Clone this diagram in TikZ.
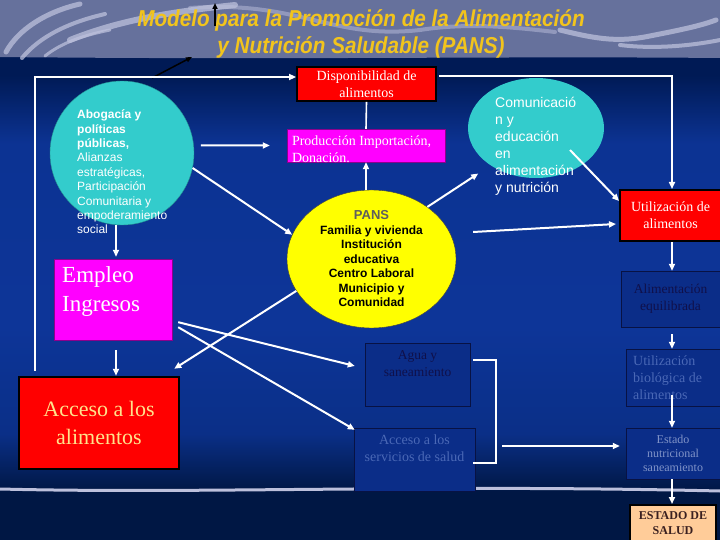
\documentclass[tikz,border=0pt]{standalone}
\usepackage{fontspec}
\setmainfont{Liberation Serif}
\setsansfont{Liberation Sans}
\newfontfamily\titlefont[FakeStretch=0.9]{Liberation Sans}
\usetikzlibrary{arrows.meta, shapes.geometric}
\definecolor{BandGray}{HTML}{66719C}
\definecolor{NavyTop}{HTML}{001A55}
\definecolor{NavyMid}{HTML}{0D3598}
\definecolor{NavyLow}{HTML}{001744}
\definecolor{TitleGold}{HTML}{F2C41C}
\definecolor{BoxRed}{HTML}{FF0000}
\definecolor{BoxPink}{HTML}{FF00FF}
\definecolor{CircleTeal}{HTML}{33CCCC}
\definecolor{PansYellow}{HTML}{FFFF00}
\definecolor{PansGray}{HTML}{5E5E5E}
\definecolor{DeepBox}{HTML}{0B2D88}
\definecolor{DeepLine}{HTML}{081244}
\definecolor{DeepText}{HTML}{10104A}
\definecolor{FaintText}{HTML}{4A68B6}
\definecolor{PaleText}{HTML}{8093C8}
\definecolor{PaleYellow}{HTML}{FFE38C}
\definecolor{Peach}{HTML}{FFCC99}
\definecolor{SaludText}{HTML}{3A2020}
\definecolor{SwirlGray}{HTML}{BCC0DC}
\pgfdeclareverticalshading{navyshade}{100bp}{color(0bp)=(NavyLow); color(30bp)=(NavyLow);
  color(36bp)=(NavyMid!80!NavyLow); color(47bp)=(NavyMid); color(66bp)=(NavyMid!92!NavyTop);
  color(73bp)=(NavyTop); color(100bp)=(NavyTop)}

\begin{document}
\begin{tikzpicture}[x=1pt,y=-1pt,
    redbox/.style={draw=black,fill=BoxRed,inner sep=0pt,align=center},
    pinkbox/.style={draw=BoxPink!55!black,fill=BoxPink,inner sep=0pt},
    deepbox/.style={draw=DeepLine,fill=DeepBox,inner sep=0pt,align=center},
    wline/.style={draw=white,line width=1.6pt},
    warrow/.style={draw=white,line width=2pt,-{Triangle[length=7pt,width=6pt]}},
    swirl/.style={draw=SwirlGray,line cap=round,opacity=0.75}]
\useasboundingbox (0,0) rectangle (720,540);
% background
\shade[shading=navyshade] (0,56) rectangle (720,540);
\fill[BandGray] (0,0) -- (720,0) -- (720,58) .. controls (500,56) and (300,60) .. (0,57) -- cycle;
\draw[swirl,line width=5pt] (6,52) .. controls (18,30) and (45,12) .. (80,4);
\draw[swirl,line width=4pt] (22,58) .. controls (40,36) and (70,22) .. (105,14);
\draw[swirl,line width=3pt] (45,56) .. controls (60,44) and (80,36) .. (110,30);
\draw[swirl,line width=6pt] (70,40) .. controls (120,20) and (170,12) .. (235,5);
\draw[swirl,line width=4pt,opacity=0.5] (190,8) .. controls (300,0) and (330,40) .. (420,30) .. controls (470,22) and (520,28) .. (555,32);
\draw[swirl,line width=5pt] (560,30) .. controls (600,40) and (620,42) .. (650,36) .. controls (680,30) and (700,26) .. (716,20);
\draw[swirl,line width=4pt] (620,45) .. controls (660,50) and (700,44) .. (720,40);
\draw[SwirlGray,line width=3pt] (0,489) .. controls (200,494) and (420,484) .. (720,491);
% title
\node[text=TitleGold,align=center,font=\titlefont\bfseries\itshape\fontsize{23}{27}\selectfont] (title) at (361,33.5)
    {Modelo para la Promoción de la Alimentación\\y Nutrición Saludable (PANS)};
\coordinate (tailUp) at (215,26);
\coordinate (tipUp) at (215,3);
\coordinate (tailDiag) at (152,78);
\coordinate (tipDiag) at (192,57);
\draw[black,line width=1.5pt,-{Triangle[length=6pt,width=5pt]}] (tailUp) -- (tipUp);
\draw[black,line width=1.5pt,-{Triangle[length=6pt,width=5pt]}] (tailDiag) -- (tipDiag);

% left column
\node[circle,fill=CircleTeal,draw=CircleTeal!70!black,minimum size=144pt,inner sep=0pt] (abog) at (122,153) {};
\node[anchor=west,inner sep=0pt,text=white,align=left,font=\sffamily\fontsize{12}{14.4}\selectfont] (abogText) at (77,172)
    {\textbf{Abogacía y}\\\textbf{políticas}\\\textbf{públicas,}\\Alianzas\\estratégicas,\\Participación\\Comunitaria y\\empoderamiento\\social};
\node[pinkbox,minimum width=118pt,minimum height=81pt] (empleo) at (113,299.5) {};
\node[anchor=west,inner sep=0pt,text=white,align=left,font=\fontsize{23}{29}\selectfont] (empleoText) at (62,291.5) {Empleo\\Ingresos};
\node[redbox,line width=2.5pt,minimum width=160pt,minimum height=92pt,text=PaleYellow,font=\fontsize{22}{28}\selectfont] (acceso) at (99,423)
    {Acceso a los\\alimentos};

% middle column
\node[redbox,line width=1.8pt,minimum width=139pt,minimum height=34pt,text=white,font=\fontsize{14}{17}\selectfont] (disp) at (366.5,84)
    {Disponibilidad de\\alimentos};
\node[pinkbox,minimum width=158pt,minimum height=33pt] (prod) at (366,145.5) {};
\node[anchor=west,inner sep=0pt,text=white,align=left,font=\fontsize{14}{17}\selectfont] (prodText) at ([xshift=5pt,yshift=-4pt]prod.west)
    {Producción Importación,\\Donación.};
\node[ellipse,fill=PansYellow,draw=black!75,minimum width=169pt,minimum height=138pt,inner sep=0pt] (pans) at (371.5,259) {};
\node[align=center,inner sep=0pt,font=\sffamily\bfseries\fontsize{12}{14.5}\selectfont] (pansText) at (pans.center)
    {{\color{PansGray}\fontsize{13}{14.5}\selectfont PANS}\\Familia y vivienda\\Institución\\educativa\\Centro Laboral\\Municipio y\\Comunidad};
\node[ellipse,fill=CircleTeal,minimum width=136pt,minimum height=100pt,inner sep=0pt] (com) at (536,128) {};
\node[anchor=west,inner sep=0pt,text=white,align=left,font=\sffamily\fontsize{14}{17}\selectfont] (comText) at (495,146)
    {Comunicació\\n y\\educación\\en\\alimentación\\y nutrición};
\node[deepbox,minimum width=105pt,minimum height=63pt] (agua) at (417.5,374.5) {};
\node[anchor=north,inner sep=0pt,align=center,text=DeepText,font=\fontsize{13.5}{17}\selectfont] (aguaText) at (417.5,350)
    {Agua y\\saneamiento};
\node[deepbox,minimum width=121pt,minimum height=63pt] (serv) at (414.5,459.5) {};
\node[anchor=north,inner sep=0pt,align=center,text=FaintText,font=\fontsize{14}{17}\selectfont] (servText) at (414.5,435)
    {Acceso a los\\servicios de salud};

% right column
\node[redbox,line width=2pt,minimum width=101pt,minimum height=51pt,text=white,font=\fontsize{14}{17}\selectfont] (util) at (670.5,215.5)
    {Utilización de\\alimentos};
\node[deepbox,minimum width=99pt,minimum height=56pt,text=DeepText,font=\fontsize{13.5}{17}\selectfont] (alim) at (670.5,299)
    {Alimentación\\equilibrada};
\node[deepbox,minimum width=94pt,minimum height=57pt] (biol) at (673,377.5) {};
\node[anchor=west,inner sep=0pt,align=left,text=FaintText,font=\fontsize{14}{17}\selectfont] (biolText) at (633,378)
    {Utilización\\biológica de\\alimentos};
\node[deepbox,minimum width=94pt,minimum height=51pt,text=PaleText,font=\fontsize{12}{14}\selectfont] (estado) at (673,453.5)
    {Estado\\nutricional\\saneamiento};
\node[redbox,line width=2pt,fill=Peach,minimum width=86pt,minimum height=37pt,text=SaludText,font=\bfseries\fontsize{12}{15}\selectfont] (salud) at (673,523.5)
    {ESTADO DE\\SALUD};

% connectors
\draw[wline,-{Triangle[length=7pt,width=6pt]}] ([shift={(17,-5)}]acceso.north west) |- ([shift={(0,-7)}]disp.west);
\draw[wline,-{Triangle[length=7pt,width=6pt]}] ([shift={(2,-8)}]disp.east) -| ([xshift=1.5pt]util.north);
\draw[wline] (disp.south) -- (prod.north);
\draw[warrow] (prod.south |- pans.north) -- (prod.south);
\draw[warrow,shorten <=7pt,shorten >=17pt] (abog.6) -- (prod.west);
\draw[warrow] (abog.-12) -- (pans.163);
\draw[warrow,shorten >=2pt] ([xshift=-6pt]abog.south) -- ([xshift=3pt]empleo.north);
\draw[warrow,shorten <=10pt] ([xshift=3pt]empleo.south) -- ([xshift=17pt]acceso.north);
\draw[warrow] (pans.203) -- ([shift={(-6,-7)}]acceso.north east);
\draw[warrow] ([shift={(6,-18)}]empleo.south east) -- ([shift={(-10,-8.5)}]agua.west);
\draw[warrow] ([shift={(6,-13)}]empleo.south east) -- ([shift={(1,2)}]serv.north west);
\draw[warrow] (pans.43) -- ([shift={(-11,9)}]com.218);
\draw[warrow] ([shift={(34,22)}]com.center) -- ([shift={(0,12)}]util.north west);
\draw[warrow] ([shift={(17,-27)}]pans.east) -- ([shift={(-3,8.5)}]util.west);
\draw[warrow] ([xshift=1.5pt]util.south) -- ([xshift=1.5pt]alim.north);
\draw[warrow,shorten <=7pt] ([xshift=1.5pt]alim.south) -- ([xshift=-1pt]biol.north);
\draw[warrow] ([shift={(-1,-11)}]biol.south) -- ([xshift=-1pt]estado.north);
\draw[warrow] ([xshift=-1pt]estado.south) -- ([xshift=-1pt]salud.north);
\draw[wline] ([shift={(3,-14.5)}]agua.east) -- ++(23,0) |- ([shift={(-2,3.5)}]serv.east);
\coordinate (brace) at (496,446);
\draw[warrow,shorten <=6pt] (brace) -- ([shift={(-6,-7.5)}]estado.west);
\end{tikzpicture}
\end{document}
